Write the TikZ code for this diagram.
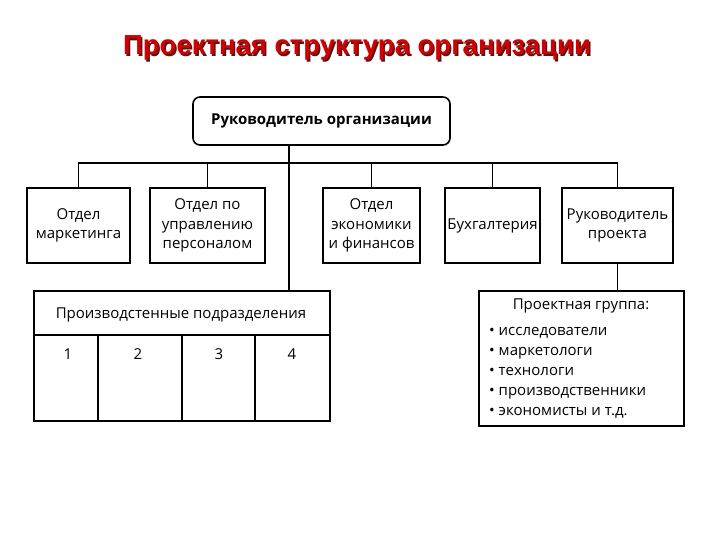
\documentclass[tikz,border=0pt]{standalone}
\usepackage{fontspec}
\setmainfont{Open Sans}
\newfontfamily\titlefont{Liberation Sans}
\definecolor{titlered}{RGB}{210,0,0}
\definecolor{shadowc}{RGB}{90,20,20}
\tikzset{
  box/.style={draw, line width=1.6pt, align=center, inner sep=2pt, font=\fontsize{15}{19.5}\selectfont},
  line/.style={line width=1.6pt},
  txt/.style={font=\fontsize{15}{19}\selectfont, inner sep=0pt},
}
\begin{document}
\begin{tikzpicture}[x=1pt,y=-1pt]
\useasboundingbox (0,0) rectangle (720,540);
% title
\node[font=\titlefont\bfseries\fontsize{27.5}{32}\selectfont, text=shadowc] (tshadow) at (358.5,49.5) {Проектная структура организации};
\node[font=\titlefont\bfseries\fontsize{27.5}{32}\selectfont, text=titlered] (title) at (357,48) {Проектная структура организации};
% top
\node[box, rounded corners=7pt, minimum width=257pt, minimum height=48pt, font=\bfseries\fontsize{15}{19}\selectfont] (top) at (321.5,121) {Руководитель организации};
% second row
\node[box, minimum width=103pt, minimum height=75pt] (b1) at (78.5,225.5) {Отдел\\маркетинга};
\node[box, minimum width=115pt, minimum height=75pt] (b2) at (207.5,225.5) {Отдел по\\управлению\\персоналом};
\node[box, minimum width=97pt, minimum height=75pt] (b3) at (371.5,225.5) {Отдел\\экономики\\и финансов};
\node[box, minimum width=95pt, minimum height=75pt] (b4) at (492.5,225.5) {Бухгалтерия};
\node[box, minimum width=111pt, minimum height=75pt] (b5) at (617.5,225.5) {Руководитель\\проекта};
% bus
\coordinate (bus) at (80,163);
\coordinate (tr) at (289,145);
\draw[line] (b1.north) -- (b1.north |- bus) -- (b5.north |- bus) -- (b5.north);
\foreach \n in {b2,b3,b4} \draw[line] (\n.north) -- (\n.north |- bus);
% production
\node[draw, line width=1.6pt, minimum width=296pt, minimum height=130pt, anchor=north west, inner sep=0pt] (prod) at (33,290) {};
\draw[line] (top.south -| tr) -- (prod.north -| tr);
\node[txt, anchor=base] (ph) at (181,318) {Производстенные подразделения};
\draw[line] (33,335) -- (329,335);
\foreach \x in {98,182,255} \draw[line] (\x,335) -- (\x,420);
\node[txt, anchor=base] (n1) at (68,359) {1};
\node[txt, anchor=base] (n2) at (138,359) {2};
\node[txt, anchor=base] (n3) at (219,359) {3};
\node[txt, anchor=base] (n4) at (292,359) {4};
% project group
\node[draw, line width=1.6pt, minimum width=205pt, minimum height=135pt, anchor=north west, inner sep=0pt] (pg) at (478,290) {};
\draw[line] (b5.south) -- (pg.north -| b5.south);
\node[txt, anchor=base] (pgt) at (581,309) {Проектная группа:};
\node[txt, anchor=base west] (i1) at (489,335) {• исследователи};
\node[txt, anchor=base west] (i2) at (489,355) {• маркетологи};
\node[txt, anchor=base west] (i3) at (489,375) {• технологи};
\node[txt, anchor=base west] (i4) at (489,395) {• производственники};
\node[txt, anchor=base west] (i5) at (489,415) {• экономисты и т.д.};
\end{tikzpicture}
\end{document}
